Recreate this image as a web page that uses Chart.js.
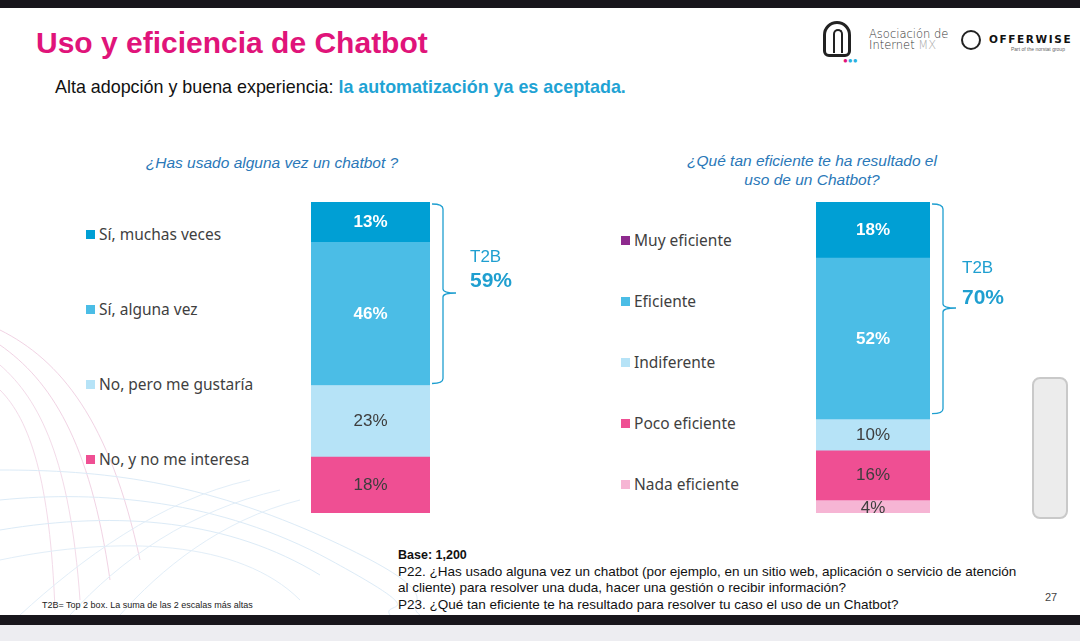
<!DOCTYPE html>
<html>
<head>
<meta charset="utf-8">
<script src="https://cdn.jsdelivr.net/npm/chart.js@4.4.1/dist/chart.umd.min.js"></script>
<style>
  html, body { margin: 0; padding: 0; }
  body { width: 1080px; height: 641px; position: relative; overflow: hidden; background: #fff; font-family: "Liberation Sans", Arial, sans-serif; }
  .abs { position: absolute; white-space: nowrap; }
  #topbar { left: 0; top: 0; width: 1080px; height: 8px; background: #18161c; }
  #botbar { left: 0; top: 615px; width: 1080px; height: 10px; background: #18161c; }
  #botband { left: 0; top: 625px; width: 1080px; height: 16px; background: #ededf1; }
  #title { left: 36px; top: 26px; font-size: 30px; font-weight: bold; color: #e0147a; }
  #subtitle { left: 55px; top: 77px; font-size: 17.9px; color: #111; }
  #subtitle b { color: #1fa3d4; }
  .qtitle { font-size: 15.5px; font-style: italic; color: #2a78b8; text-align: center; line-height: 19px; }
  .leg { font-family: "Noto Sans", sans-serif; font-size: 15.5px; color: #3f3f3f; display: flex; align-items: center; }
  .leg i { display: inline-block; width: 9px; height: 9px; margin-right: 4px; }
  .foot { font-size: 13.5px; color: #111; }
  #scroll { left: 1032px; top: 377px; width: 32px; height: 138px; background: #ececec; border: 2px solid #c9c9c9; border-radius: 8px; }
  canvas { position: absolute; }
</style>
</head>
<body>
<svg class="abs" style="left:0;top:0" width="1080" height="641">
  <g fill="none" stroke-width="1">
    <path d="M0 330 C 60 360, 110 420, 140 560" stroke="#f1d3e4"/>
    <path d="M0 345 C 50 380, 90 440, 110 580" stroke="#f1d3e4"/>
    <path d="M0 365 C 40 400, 70 460, 80 600" stroke="#f3dbe9"/>
    <path d="M0 390 C 30 420, 50 480, 55 610" stroke="#f3dbe9"/>
    <path d="M0 470 C 100 470, 200 480, 330 540 S 400 600, 420 615" stroke="#dcebf7"/>
    <path d="M0 500 C 100 490, 220 500, 330 560 S 380 600, 390 615" stroke="#dcebf7"/>
    <path d="M0 530 C 120 510, 230 520, 320 575" stroke="#dcebf7"/>
    <path d="M0 560 C 120 535, 240 540, 300 600" stroke="#e2eef8"/>
    <path d="M20 615 C 80 560, 160 500, 250 480" stroke="#e2eef8"/>
    <path d="M70 615 C 120 560, 190 510, 280 490" stroke="#e2eef8"/>
    <path d="M120 615 C 160 570, 220 520, 300 500" stroke="#e2eef8"/>
  </g>
</svg>
<div id="topbar" class="abs"></div>
<div id="botbar" class="abs"></div>
<div id="botband" class="abs"></div>

<div id="title" class="abs">Uso y eficiencia de Chatbot</div>
<div id="subtitle" class="abs">Alta adopción y buena experiencia: <b>la automatización ya es aceptada.</b></div>

<!-- logos -->
<div class="abs" style="left:823px;top:21px;width:28px;height:36px;border:3px solid #222;border-radius:14px 14px 6px 6px;box-sizing:border-box;"></div>
<div class="abs" style="left:833px;top:29px;width:10px;height:24px;border:2px solid #222;border-radius:6px 6px 0 0;border-bottom:none;box-sizing:border-box;"></div>
<div class="abs" style="left:843px;top:57px;font-size:8px;line-height:8px;"><span style="color:#e0147a">●</span><span style="color:#2ab0e0">●</span><span style="color:#2ab0e0">●</span></div>
<div class="abs" style="left:869px;top:29px;font-family:'DejaVu Sans',sans-serif;font-size:11.5px;line-height:11px;color:#333;font-weight:300;">Asociación de<br>Internet <span style="color:#aaa">MX</span></div>
<div class="abs" style="left:961px;top:30px;width:20px;height:20px;border:2px solid #222;border-radius:50%;box-sizing:border-box;"></div>
<div class="abs" style="left:989px;top:33px;font-family:'DejaVu Sans',sans-serif;font-size:10.5px;font-weight:bold;letter-spacing:1.6px;color:#111;">OFFERWISE</div>
<div class="abs" style="left:1011px;top:46px;font-size:5px;color:#666;">Part of the norstat group</div>

<div class="abs qtitle" style="left:122px;top:153px;width:300px;">¿Has usado alguna vez un chatbot ?</div>
<div class="abs qtitle" style="left:662px;top:151px;width:300px;">¿Qué tan eficiente te ha resultado el<br>uso de un Chatbot?</div>

<div id="legUso"></div>
<div id="legEfic"></div>

<canvas id="usoChart"></canvas>
<canvas id="eficChart"></canvas>

<div id="scroll" class="abs"></div>

<div class="abs foot" style="left:398px;top:548px;font-weight:bold;font-size:12.5px;">Base: 1,200</div>
<div class="abs foot" style="left:398px;top:564px;">P22. ¿Has usado alguna vez un chatbot (por ejemplo, en un sitio web, aplicación o servicio de atención</div>
<div class="abs foot" style="left:398px;top:580px;">al cliente) para resolver una duda, hacer una gestión o recibir información?</div>
<div class="abs foot" style="left:398px;top:597px;">P23. ¿Qué tan eficiente te ha resultado para resolver tu caso el uso de un Chatbot?</div>
<div class="abs" style="left:42px;top:600px;font-size:9px;color:#222;">T2B= Top 2 box. La suma de las 2 escalas más altas</div>
<div class="abs" style="left:1045px;top:591px;font-size:11px;color:#444;">27</div>

<script>
// datos, de arriba hacia abajo en la barra
const usoLabels = ['Sí, muchas veces', 'Sí, alguna vez', 'No, pero me gustaría', 'No, y no me interesa'];
const usoValues = [13, 46, 23, 18];
const eficLabels = ['Muy eficiente', 'Eficiente', 'Indiferente', 'Poco eficiente', 'Nada eficiente'];
const eficValues = [18, 52, 10, 16, 4];
const t2bLabel = 'T2B';

const usoColors = ['#009fd4', '#4bbde6', '#b6e3f7', '#ef4f93'];
const eficColors = ['#009fd4', '#4bbde6', '#b6e3f7', '#ef4f93', '#f6b5d4'];
const eficLegendColors = ['#8e2a8e', '#4bbde6', '#b6e3f7', '#ef4f93', '#f6b5d4'];

function buildLegend(id, labels, colors, left, top, step) {
    const box = document.getElementById(id);
    labels.forEach(function (lab, i) {
        const d = document.createElement('div');
        d.className = 'abs leg';
        d.style.left = left + 'px';
        d.style.top = (top + i * step - 10) + 'px';
        d.style.height = '20px';
        d.innerHTML = '<i style="background:' + colors[i] + '"></i>' + lab;
        box.appendChild(d);
    });
}
buildLegend('legUso', usoLabels, usoColors, 86, 234, 75);
buildLegend('legEfic', eficLabels, eficLegendColors, 621, 240, 61);

// etiquetas de porcentaje y llave T2B
const barDecor = {
    id: 'barDecor',
    afterDatasetsDraw(chart, args, opts) {
        const ctx = chart.ctx;
        const n = chart.data.datasets.length;
        ctx.save();
        ctx.textAlign = 'center';
        ctx.textBaseline = 'middle';
        chart.data.datasets.forEach(function (ds, di) {
            const el = chart.getDatasetMeta(di).data[0];
            const top = n - 1 - di; // indice en orden de arriba a abajo
            const strong = top < 2;
            ctx.font = (strong ? 'bold ' : '') + '17px "Liberation Sans", Arial, sans-serif';
            ctx.fillStyle = strong ? '#ffffff' : '#3d3d3d';
            const cy = (el.y + el.base) / 2 + (opts.labelShift[top] || 0);
            ctx.fillText(ds.data[0] + '%', el.x, cy);
        });

        // llave sobre las dos primeras categorias
        const y = chart.scales.y;
        const total = ds => ds.reduce((a, b) => a + b, 0);
        const vals = opts.values;
        const yTop = y.getPixelForValue(total(vals)) + 2;
        const yBot = y.getPixelForValue(total(vals) - vals[0] - vals[1]) - opts.braceInset;
        const yMid = opts.braceMid;
        const x0 = chart.chartArea.right + 2;
        const x1 = x0 + 11;
        const x2 = x1 + 13;
        ctx.strokeStyle = '#1f9fd0';
        ctx.lineWidth = 1.3;
        ctx.beginPath();
        ctx.moveTo(x0, yTop);
        ctx.quadraticCurveTo(x1, yTop, x1, yTop + 5);
        ctx.lineTo(x1, yMid - 4);
        ctx.quadraticCurveTo(x1, yMid, x2, yMid);
        ctx.moveTo(x1, yMid - 4);
        ctx.quadraticCurveTo(x1, yMid, x2, yMid);
        ctx.quadraticCurveTo(x1, yMid, x1, yMid + 4);
        ctx.lineTo(x1, yBot - 5);
        ctx.quadraticCurveTo(x1, yBot, x0, yBot);
        ctx.stroke();

        ctx.textAlign = 'left';
        ctx.fillStyle = '#1f9fd0';
        ctx.font = '17px "Liberation Sans", Arial, sans-serif';
        ctx.fillText(t2bLabel, opts.textX, opts.t2bY);
        ctx.font = 'bold 21px "Liberation Sans", Arial, sans-serif';
        ctx.fillText((vals[0] + vals[1]) + '%', opts.textX, opts.pctY);
        ctx.restore();
    }
};

function makeChart(id, left, width, barWidth, labels, values, colors, decor) {
    const cv = document.getElementById(id);
    cv.style.left = left + 'px';
    cv.style.top = '195px';
    cv.style.width = width + 'px';
    cv.style.height = '325px';
    // la pila empieza por abajo
    const datasets = labels.map(function (lab, i) {
        return { label: lab, data: [values[i]], backgroundColor: colors[i], borderWidth: 0,
                 barPercentage: 1, categoryPercentage: 1 };
    }).reverse();
    return new Chart(cv.getContext('2d'), {
        type: 'bar',
        data: { labels: [''], datasets: datasets },
        options: {
            responsive: false,
            animation: false,
            devicePixelRatio: 1,
            layout: { padding: { top: 7, bottom: 7, left: 0, right: width - barWidth } },
            plugins: { legend: { display: false }, tooltip: { enabled: false }, barDecor: decor },
            scales: {
                x: { stacked: true, display: false },
                y: { stacked: true, display: false, min: 0, max: 100 }
            }
        },
        plugins: [barDecor]
    });
}

function sizeCanvas(id, w, h) {
    const cv = document.getElementById(id);
    cv.width = w; cv.height = h;
}
sizeCanvas('usoChart', 240, 325);
sizeCanvas('eficChart', 210, 325);

makeChart('usoChart', 311, 240, 119, usoLabels, usoValues, usoColors,
    { values: usoValues, braceInset: 2, braceMid: 98, textX: 159, t2bY: 62, pctY: 86, labelShift: [0, 0, 0, 0] });
makeChart('eficChart', 816, 210, 114, eficLabels, eficValues, eficColors,
    { values: eficValues, braceInset: 6, braceMid: 113, textX: 146, t2bY: 73, pctY: 103, labelShift: [0, 0, 0, 0, 2] });
</script>
</body>
</html>
